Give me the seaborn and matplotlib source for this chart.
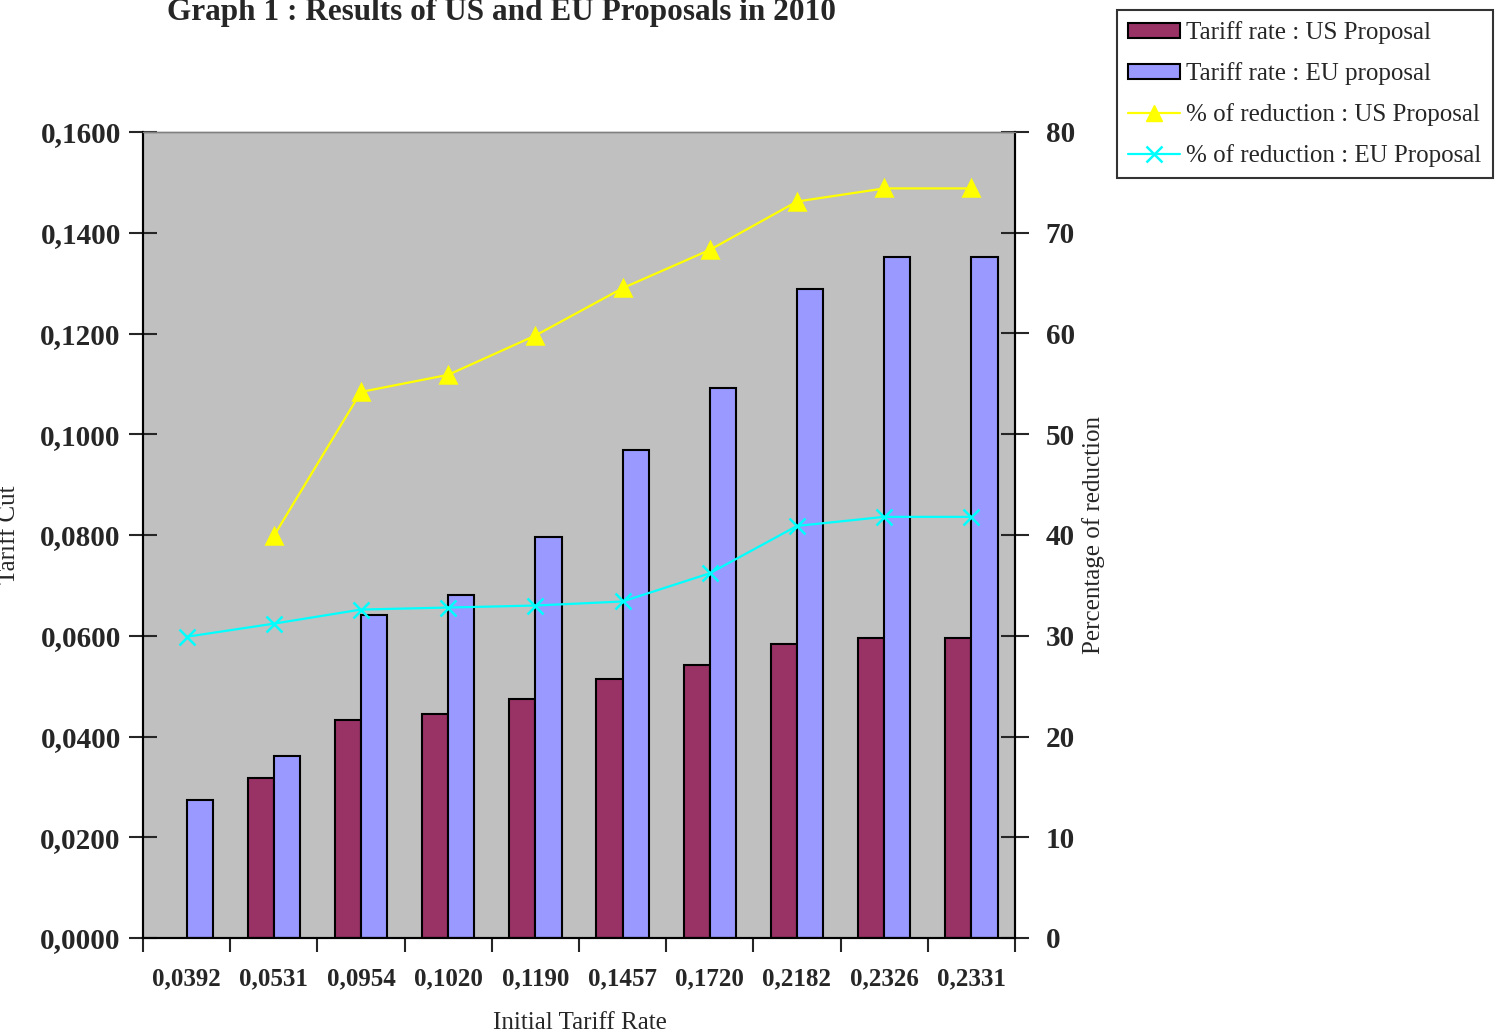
import numpy as np
import pandas as pd
import matplotlib
matplotlib.use("Agg")
import matplotlib.pyplot as plt
from matplotlib.lines import Line2D
from matplotlib.patches import Patch
from matplotlib.ticker import FuncFormatter, FixedLocator
import seaborn as sns

# ---------------- data ----------------
initial_rates = ["0,0392", "0,0531", "0,0954", "0,1020", "0,1190",
                 "0,1457", "0,1720", "0,2182", "0,2326", "0,2331"]
tariff_us = [np.nan, 0.0318, 0.0433, 0.0445, 0.0475, 0.0515, 0.0542, 0.0583, 0.0596, 0.0596]
tariff_eu = [0.0274, 0.0361, 0.0641, 0.0681, 0.0797, 0.0968, 0.1091, 0.1288, 0.1352, 0.1352]
reduction_us = [np.nan, 39.9, 54.2, 55.9, 59.8, 64.5, 68.3, 73.1, 74.4, 74.4]
reduction_eu = [29.9, 31.2, 32.6, 32.8, 33.0, 33.4, 36.2, 40.9, 41.8, 41.8]
series_names = ["Tariff rate : US Proposal", "Tariff rate : EU proposal"]
line_names = ["% of reduction : US Proposal", "% of reduction : EU Proposal"]

bar_df = pd.DataFrame({
    "rate": initial_rates * 2,
    "value": tariff_us + tariff_eu,
    "series": [series_names[0]] * len(initial_rates) + [series_names[1]] * len(initial_rates),
})
line_df = pd.DataFrame({"rate": initial_rates, "us": reduction_us, "eu": reduction_eu})

# ---------------- style ----------------
sns.set_style("white")
plt.rcParams["font.family"] = ["Liberation Serif", "DejaVu Serif"]

C_US = "#993366"
C_EU = "#9999FF"
C_YEL = "#FFFF00"
C_CYAN = "#00FFFF"

fig = plt.figure(figsize=(15.04, 10.36), dpi=100)
ax = fig.add_axes([143 / 1504, 1 - 938 / 1036, (1015 - 143) / 1504, (938 - 132) / 1036])
ax.set_facecolor("#C0C0C0")

sns.barplot(data=bar_df, x="rate", y="value", hue="series", order=initial_rates,
            hue_order=series_names, palette=[C_US, C_EU], saturation=1,
            width=0.6, gap=0, edgecolor="black", linewidth=1.5, errorbar=None,
            legend=False, ax=ax, zorder=2)

ax2 = ax.twinx()
sns.pointplot(data=line_df, x="rate", y="us", order=initial_rates, color=C_YEL,
              markers="^", markersize=11, linewidth=1.6, errorbar=None, ax=ax2)
sns.pointplot(data=line_df, x="rate", y="eu", order=initial_rates, color=C_CYAN,
              markers="x", markersize=11, linewidth=1.6, errorbar=None, ax=ax2)
for ln in ax2.lines:
    ln.set_markeredgewidth(1.8)

n = len(initial_rates)
ax.set_xlim(-0.5, n - 0.5)
ax2.set_xlim(-0.5, n - 0.5)
ax.set_ylim(0, 0.16)
ax2.set_ylim(0, 80)

# y ticks
ax.set_yticks(np.arange(0, 0.1601, 0.02))
ax.yaxis.set_major_formatter(FuncFormatter(lambda v, p: f"{v:.4f}".replace(".", ",")))
ax2.set_yticks(np.arange(0, 81, 10))
ax.tick_params(axis="y", direction="inout", length=20, width=1.5, pad=6,
               labelsize=21, left=True)
ax2.tick_params(axis="y", direction="inout", length=20, width=1.5, pad=12,
                labelsize=21, right=True)
for t in ax.get_yticklabels() + ax2.get_yticklabels():
    t.set_fontweight("bold")

# x ticks: major at category boundaries, labels at centers
ax.xaxis.set_major_locator(FixedLocator(np.arange(-0.5, n, 1.0)))
ax.xaxis.set_minor_locator(FixedLocator(np.arange(n)))
ax.set_xticklabels([], minor=False)
ax.set_xticklabels(initial_rates, minor=True)
ax.tick_params(axis="x", which="major", direction="out", length=10, width=1.5, bottom=True)
ax.tick_params(axis="x", which="minor", length=0, pad=21, labelsize=18)
for t in ax.get_xticklabels(minor=True):
    t.set_fontweight("bold")
ax2.tick_params(axis="x", which="both", bottom=False, top=False, labelbottom=False)

ax.set_xlabel("")
ax.set_ylabel("")
ax2.set_ylabel("")

for a in (ax, ax2):
    for s in a.spines.values():
        s.set_linewidth(1.5)
        s.set_color("black")
    a.spines["top"].set_color("#808080")
    a.spines["top"].set_linewidth(1.0)

# titles and labels
fig.text(502 / 1504, 1 - 20 / 1036, "Graph 1 : Results of US and EU Proposals in 2010",
         ha="center", va="baseline", fontsize=22.5, fontweight="bold")
fig.text(580 / 1504, 1 - 1023 / 1036, "Initial Tariff Rate", ha="center", va="center",
         fontsize=18)
fig.text(1094 / 1504, 1 - 535 / 1036, "Percentage of reduction", ha="center", va="center",
         rotation=90, fontsize=18)
fig.text(9 / 1504, 1 - 535 / 1036, "Tariff Cut", ha="center", va="center",
         rotation=90, fontsize=18)

# legend
handles = [
    Patch(facecolor=C_US, edgecolor="black", linewidth=1.5),
    Patch(facecolor=C_EU, edgecolor="black", linewidth=1.5),
    Line2D([], [], color=C_YEL, marker="^", markersize=11, linewidth=1.6),
    Line2D([], [], color=C_CYAN, marker="x", markersize=11, linewidth=1.6, markeredgewidth=1.8),
]
leg = fig.legend(handles, series_names + line_names, loc="upper right",
                 bbox_to_anchor=(1493 / 1504, 1 - 10 / 1036), fontsize=18,
                 frameon=True, fancybox=False, handlelength=2.1, handleheight=0.55,
                 handletextpad=0.25, labelspacing=0.72, borderpad=0.45, borderaxespad=0)
leg.get_frame().set_edgecolor("black")
leg.get_frame().set_linewidth(1.5)

fig.savefig("out.png", dpi=100, facecolor="white")
